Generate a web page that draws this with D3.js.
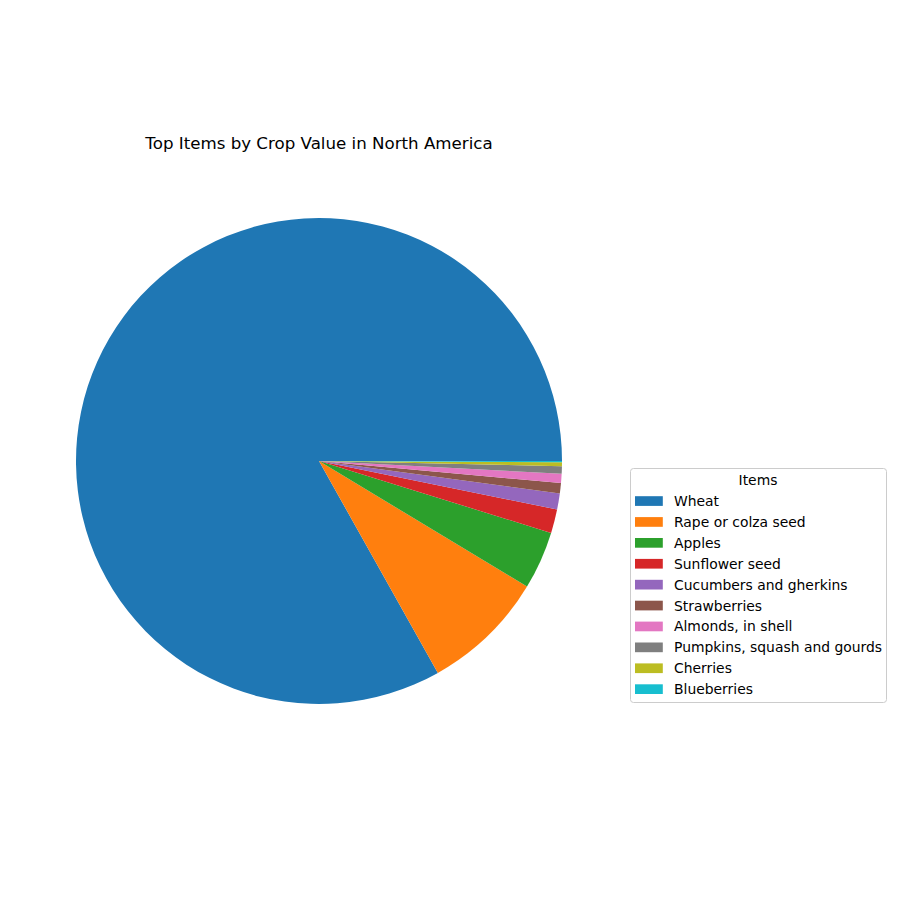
<!DOCTYPE html>
<html><head><meta charset="utf-8">
<script src="https://cdn.jsdelivr.net/npm/d3@7"></script>
<style>body{margin:0;background:#fff}svg{display:block}text{font-family:"DejaVu Sans",sans-serif}</style>
</head><body><div id="chart"></div>
<script>
const items = ["Wheat","Rape or colza seed","Apples","Sunflower seed","Cucumbers and gherkins","Strawberries","Almonds, in shell","Pumpkins, squash and gourds","Cherries","Blueberries"];
const values = [83.11, 8.22, 3.86, 1.58, 1.07, 0.68, 0.61, 0.5, 0.26, 0.08];
const colors = ["#1f77b4","#ff7f0e","#2ca02c","#d62728","#9467bd","#8c564b","#e377c2","#7f7f7f","#bcbd22","#17becf"];
const title = "Top Items by Crop Value in North America";
const legendTitle = "Items";

const W = 900, H = 900, cx = 319, cy = 461, R = 243;
const svg = d3.select("#chart").append("svg").attr("width", W).attr("height", H);
const data = items.map((k, i) => ({item: k, value: values[i], color: colors[i]}));
const pie = d3.pie().value(d => d.value).sort(null)
  .startAngle(Math.PI / 2).endAngle(Math.PI / 2 - 2 * Math.PI);
const arc = d3.arc().innerRadius(0).outerRadius(R);
svg.append("g").attr("transform", `translate(${cx},${cy})`)
  .selectAll("path").data(pie(data)).join("path")
  .attr("d", arc).attr("fill", d => d.data.color);

svg.append("text").attr("x", cx).attr("y", 143).attr("text-anchor", "middle")
  .attr("dominant-baseline", "central").attr("font-size", "16.67px").text(title);

const lg = svg.append("g");
lg.append("rect").attr("x", 630.5).attr("y", 468.5).attr("width", 256).attr("height", 234)
  .attr("rx", 3).attr("fill", "#fff").attr("fill-opacity", 0.8).attr("stroke", "#cccccc");
lg.append("text").attr("x", 758).attr("y", 480).attr("text-anchor", "middle")
  .attr("dominant-baseline", "central").attr("font-size", "13.9px").text(legendTitle);
const step = 20.9;
const ent = lg.selectAll("g.e").data(data).join("g").attr("class", "e")
  .attr("transform", (d, i) => `translate(0,${501 + i * step})`);
ent.append("rect").attr("x", 635).attr("y", -4.8).attr("width", 27.8).attr("height", 9.7)
  .attr("fill", d => d.color);
ent.append("text").attr("x", 674).attr("y", 0).attr("dominant-baseline", "central")
  .attr("font-size", "13.9px").text(d => d.item);
</script></body></html>
